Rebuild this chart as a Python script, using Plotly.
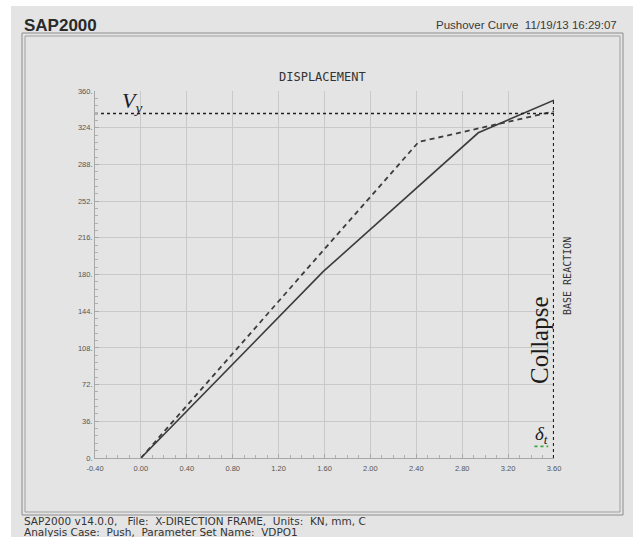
import plotly.graph_objects as go

# Pushover curves: roof displacement (mm) vs base reaction (kN)
disp_solid = [0.0, 1.59, 2.94, 3.60]
base_solid = [0.0, 183.0, 319.0, 351.0]

disp_dashed = [0.0, 2.42, 3.60]
base_dashed = [0.0, 310.0, 340.0]

yield_shear = 338.0        # V_y level
collapse_disp = 3.60       # target displacement at collapse
collapse_top = 351.0

x_ticks = [-0.40, 0.00, 0.40, 0.80, 1.20, 1.60, 2.00, 2.40, 2.80, 3.20, 3.60]
y_ticks = [0, 36, 72, 108, 144, 180, 216, 252, 288, 324, 360]

W, H = 638, 537
L, R, T, B = 95, 84, 91, 79
pw, ph = W - L - R, H - T - B


def px(xp):
    return (xp - L) / pw


def py(yp):
    return (H - B - yp) / ph


BG = "#e4e4e4"
INK = "#3c3c3c"

fig = go.Figure()

fig.add_trace(go.Scatter(x=disp_solid, y=base_solid, mode="lines",
                         line=dict(color=INK, width=1.6), hoverinfo="skip"))
fig.add_trace(go.Scatter(x=disp_dashed, y=base_dashed, mode="lines",
                         line=dict(color=INK, width=1.8, dash="5px,4px"),
                         hoverinfo="skip"))
# Yield shear level
fig.add_trace(go.Scatter(x=[x_ticks[0], collapse_disp], y=[yield_shear, yield_shear],
                         mode="lines", line=dict(color="#202020", width=1.6, dash="dot"),
                         hoverinfo="skip"))
# Collapse displacement
fig.add_trace(go.Scatter(x=[collapse_disp, collapse_disp], y=[0, collapse_top],
                         mode="lines", line=dict(color="#202020", width=2.2, dash="dot"),
                         hoverinfo="skip"))

shapes = [
    # page background
    dict(type="rect", xref="paper", yref="paper", x0=px(11), x1=px(633), y0=py(6), y1=py(540),
         fillcolor=BG, line=dict(width=0), layer="below"),
    # double frame
    dict(type="rect", xref="paper", yref="paper", x0=px(22), x1=px(623), y0=py(33), y1=py(515),
         line=dict(color="#8c8c8c", width=1)),
    dict(type="rect", xref="paper", yref="paper", x0=px(25), x1=px(620), y0=py(36), y1=py(512),
         line=dict(color="#a0a0a0", width=1)),
    # spell-check squiggle under delta_t
    dict(type="line", xref="x", yref="y", x0=3.43, x1=3.55, y0=11.5, y1=11.5,
         line=dict(color="#3aa63a", width=1.8, dash="dot")),
]

annotations = [
    dict(text="<b>SAP2000</b>", xref="paper", yref="paper", x=px(22), y=py(26),
         xanchor="left", yanchor="middle", showarrow=False,
         font=dict(family="Liberation Sans, Arial", size=17, color="#2a2a2a")),
    dict(text="Pushover Curve  11/19/13 16:29:07", xref="paper", yref="paper",
         x=px(619), y=py(25), xanchor="right", yanchor="middle", showarrow=False,
         font=dict(family="Liberation Sans, Arial", size=11.5, color="#3a3a3a")),
    dict(text="DISPLACEMENT", xref="paper", yref="paper", x=px(322), y=py(77),
         xanchor="center", yanchor="middle", showarrow=False,
         font=dict(family="DejaVu Sans Mono", size=12, color="#333")),
    dict(text="BASE REACTION", xref="paper", yref="paper", x=px(567), y=py(276),
         xanchor="center", yanchor="middle", showarrow=False, textangle=-90,
         font=dict(family="DejaVu Sans Mono", size=10, color="#333")),
    dict(text="<i>V<sub>y</sub></i>", xref="x", yref="y", x=-0.08, y=349,
         xanchor="center", yanchor="middle", showarrow=False,
         font=dict(family="Liberation Serif, DejaVu Serif", size=22, color="#1c1c2a")),
    dict(text="Collapse", xref="x", yref="y", x=3.48, y=116,
         xanchor="center", yanchor="middle", showarrow=False, textangle=-90,
         font=dict(family="Liberation Serif, DejaVu Serif", size=25, color="#1c1c1c")),
    dict(text="<i>δ<sub>t</sub></i>", xref="x", yref="y", x=3.49, y=23,
         xanchor="center", yanchor="middle", showarrow=False,
         font=dict(family="Liberation Serif, DejaVu Serif", size=19, color="#1c1c2a")),
    dict(text="SAP2000 v14.0.0,   File:  X-DIRECTION FRAME,  Units:  KN, mm, C",
         xref="paper", yref="paper", x=px(22), y=py(521), xanchor="left", yanchor="middle",
         showarrow=False, font=dict(family="DejaVu Sans", size=10.5, color="#333")),
    dict(text="Analysis Case:  Push,  Parameter Set Name:  VDPO1",
         xref="paper", yref="paper", x=px(22), y=py(531.5), xanchor="left", yanchor="middle",
         showarrow=False, font=dict(family="DejaVu Sans", size=10.5, color="#333")),
]

tick_font = dict(family="Liberation Sans, Arial", size=7.5, color="#555")

fig.update_layout(
    width=W, height=H,
    margin=dict(l=L, r=R, t=T, b=B, pad=0),
    paper_bgcolor="white",
    plot_bgcolor=BG,
    showlegend=False,
    shapes=shapes,
    annotations=annotations,
    xaxis=dict(
        range=[x_ticks[0], x_ticks[-1]], tickvals=x_ticks,
        ticktext=[f"{v:.2f}" for v in x_ticks],
        showgrid=True, gridcolor="#c9c9c9", gridwidth=1,
        showline=True, linecolor="#a8a8a8", linewidth=1,
        ticks="inside", ticklen=4, tickcolor="#a8a8a8",
        minor=dict(dtick=0.1, ticks="inside", ticklen=3, tickcolor="#b0b0b0", showgrid=False),
        zeroline=False, tickfont=tick_font, fixedrange=True, ticklabelstandoff=3,
    ),
    yaxis=dict(
        range=[y_ticks[0], y_ticks[-1]], tickvals=y_ticks,
        ticktext=[f"{v}." for v in y_ticks],
        showgrid=True, gridcolor="#c9c9c9", gridwidth=1,
        showline=True, linecolor="#a8a8a8", linewidth=1,
        ticks="inside", ticklen=4, tickcolor="#a8a8a8",
        minor=dict(dtick=7.2, ticks="inside", ticklen=3, tickcolor="#b0b0b0", showgrid=False),
        zeroline=False, tickfont=tick_font, fixedrange=True,
    ),
)

fig.write_html("out.html")
